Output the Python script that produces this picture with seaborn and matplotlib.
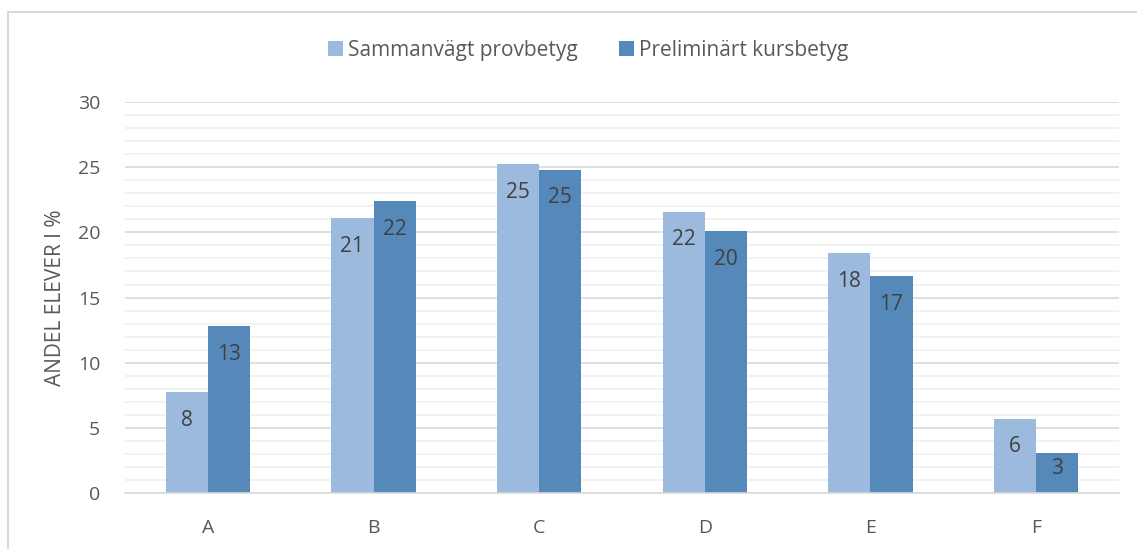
import pandas as pd
import matplotlib.pyplot as plt
import matplotlib.lines as mlines
import seaborn as sns
from matplotlib.ticker import MultipleLocator

grades = ['A', 'B', 'C', 'D', 'E', 'F']
series_names = ['Sammanvägt provbetyg', 'Preliminärt kursbetyg']
provbetyg = [7.75, 21.1, 25.25, 21.6, 18.4, 5.7]
kursbetyg = [12.8, 22.4, 24.8, 20.1, 16.65, 3.07]
colors = ['#9bbadd', '#5589ba']

df = pd.DataFrame({
    'grade': grades * 2,
    'serie': [series_names[0]] * len(grades) + [series_names[1]] * len(grades),
    'value': provbetyg + kursbetyg,
})

sns.set_theme(style='white')
plt.rcParams['font.family'] = ['Open Sans', 'DejaVu Sans']

fig = plt.figure(figsize=(11.37, 5.49), dpi=100)
ax = fig.add_axes([0.110, 0.102, 0.874, 0.712])

sns.barplot(data=df, x='grade', y='value', hue='serie', palette=colors,
            width=0.51, saturation=1, linewidth=0, edgecolor='none',
            ax=ax, legend=True)

ax.set_ylim(0, 30)
ax.set_xlim(-0.5, 5.5)

# data labels inside the bar end, about 28 px below the top
px_per_unit = ax.get_window_extent().height / 30
for container in ax.containers:
    for bar in container:
        h = bar.get_height()
        h_px = h * px_per_unit
        off_px = min(28, h_px - 25)
        ax.annotate(f'{h:.0f}', xy=(bar.get_x() + bar.get_width() / 2, h),
                    xytext=(0, -off_px * 72 / 100), textcoords='offset points',
                    ha='center', va='center', fontsize=15, color='#404040')

ax.yaxis.set_major_locator(MultipleLocator(5))
ax.yaxis.set_minor_locator(MultipleLocator(1))
ax.grid(which='major', axis='y', color='#d9d9d9', linewidth=1.2)
ax.grid(which='minor', axis='y', color='#f0f0f0', linewidth=1.2)
ax.set_axisbelow(True)
for side in ['top', 'right', 'left']:
    ax.spines[side].set_visible(False)
ax.spines['bottom'].set_color('#d9d9d9')
ax.spines['bottom'].set_linewidth(1.2)

ax.tick_params(axis='both', which='both', length=0, labelsize=14, labelcolor='#595959')
ax.tick_params(axis='x', pad=19)
ax.tick_params(axis='y', pad=18)
ax.set_xlabel('')
ax.set_ylabel('ANDEL ELEVER I %', fontsize=15, color='#595959', labelpad=8)

handles, labels = ax.get_legend_handles_labels()
ax.legend(handles, labels, loc='center', bbox_to_anchor=(0.466, 1.133),
          ncol=2, frameon=False, fontsize=15, labelcolor='#595959',
          handlelength=0.7, handleheight=0.7, handletextpad=0.25, columnspacing=2.0)

# chart border (cropped on right and bottom)
fig.add_artist(mlines.Line2D([8 / 1137, 1], [1 - 12 / 549, 1 - 12 / 549],
                             transform=fig.transFigure, color='#d9d9d9', linewidth=1.5))
fig.add_artist(mlines.Line2D([8 / 1137, 8 / 1137], [0, 1 - 12 / 549],
                             transform=fig.transFigure, color='#d9d9d9', linewidth=1.5))

fig.savefig('out.png', dpi=100)
